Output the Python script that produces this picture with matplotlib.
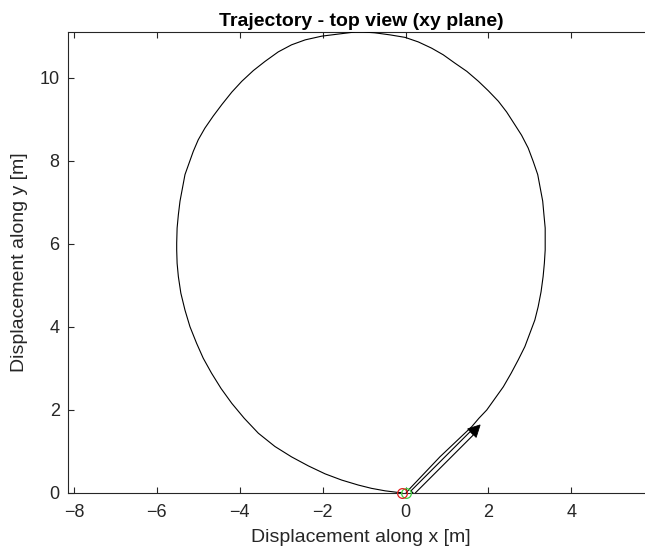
import matplotlib
matplotlib.use("Agg")
import matplotlib.pyplot as plt
from matplotlib.patches import FancyArrow

# Trajectory in the horizontal plane [m], from start to end
traj_x = [0.02, 0.11, 0.83, 1.60, 1.77, 1.96, 2.16, 2.36, 2.55, 2.72, 2.88,
          3.00, 3.12, 3.20, 3.27, 3.32, 3.35, 3.37, 3.37, 3.37, 3.34, 3.31,
          3.25, 3.19, 3.08, 2.96, 2.80, 2.64, 2.44, 2.24, 2.00, 1.76, 1.48,
          1.19, 0.91, 0.63, 0.31, -0.01, -0.37, -0.74, -1.02, -1.22, -1.54,
          -2.02, -2.42, -2.75, -3.07, -3.39, -3.67, -3.95, -4.19, -4.43, -4.64,
          -4.84, -5.00, -5.12, -5.22, -5.32, -5.38, -5.44, -5.48, -5.51, -5.52,
          -5.52, -5.51, -5.48, -5.42, -5.32, -5.20, -5.04, -4.88, -4.68, -4.45,
          -4.19, -3.89, -3.55, -3.15, -2.75, -2.34, -1.94, -1.54, -1.14, -0.82,
          -0.49, -0.17, -0.09]
traj_y = [0.00, 0.10, 0.86, 1.59, 1.79, 1.99, 2.27, 2.55, 2.88, 3.20, 3.52,
          3.84, 4.16, 4.48, 4.84, 5.21, 5.53, 5.85, 6.02, 6.38, 6.70, 7.03,
          7.35, 7.67, 7.99, 8.31, 8.62, 8.87, 9.18, 9.44, 9.69, 9.92, 10.16,
          10.36, 10.56, 10.72, 10.87, 10.98, 11.04, 11.09, 11.11, 11.11, 11.07,
          11.01, 10.92, 10.80, 10.63, 10.40, 10.18, 9.92, 9.66, 9.36, 9.08,
          8.79, 8.51, 8.23, 7.95, 7.67, 7.35, 7.03, 6.70, 6.38, 6.02,
          5.85, 5.53, 5.21, 4.81, 4.40, 4.00, 3.60, 3.24, 2.88, 2.51,
          2.15, 1.79, 1.43, 1.11, 0.86, 0.64, 0.45, 0.30, 0.18, 0.10,
          0.04, 0.00, 0.00]

# Initial heading arrow (tail -> tip) [m]
heading_tail = (0.17, 0.00)
heading_tip = (1.80, 1.63)

x_ticks = [-8, -6, -4, -2, 0, 2, 4]
y_ticks = [0, 2, 4, 6, 8, 10]

plt.rcParams["font.family"] = ["Liberation Sans", "DejaVu Sans"]
text_gray = "#262626"

fig = plt.figure(figsize=(6.45, 5.56), dpi=100)
W, H = 645, 556
left_px, right_px, top_px, bottom_px = 68, 654, 32, 492.5
ax = fig.add_axes([left_px / W, (H - bottom_px) / H,
                   (right_px - left_px) / W, (bottom_px - top_px) / H])

ax.plot(traj_x, traj_y, color="black", lw=0.8, zorder=3)

# start / end markers
ax.plot(traj_x[0], traj_y[0], "o", mfc="none", mec="#3fd13f", ms=7, mew=0.9,
        clip_on=False, zorder=5)
ax.plot(traj_x[-1], traj_y[-1], "o", mfc="none", mec="#e32020", ms=7, mew=0.9,
        clip_on=False, zorder=5)

# heading arrow: hollow shaft with a filled head
dx = heading_tip[0] - heading_tail[0]
dy = heading_tip[1] - heading_tail[1]
length = (dx ** 2 + dy ** 2) ** 0.5
ux, uy = dx / length, dy / length
head_len, head_w, shaft_w = 0.28, 0.29, 0.11
shaft = FancyArrow(heading_tail[0], heading_tail[1],
                   ux * (length - head_len), uy * (length - head_len),
                   width=shaft_w, head_width=shaft_w, head_length=0,
                   length_includes_head=True, fc="white", ec="black", lw=0.8,
                   zorder=4)
ax.add_patch(shaft)
bx = heading_tip[0] - ux * head_len
by = heading_tip[1] - uy * head_len
head = FancyArrow(bx, by, ux * head_len, uy * head_len, width=0,
                  head_width=head_w, head_length=head_len,
                  length_includes_head=True, fc="black", ec="black", lw=0.6,
                  zorder=4)
ax.add_patch(head)

x0_px = 405.5
scale = 41.45
ax.set_xlim((left_px - x0_px) / scale, (right_px - x0_px) / scale)
ax.set_ylim(0, (bottom_px - top_px) / scale)
ax.set_xticks(x_ticks)
ax.set_yticks(y_ticks)

ax.tick_params(direction="in", length=4, width=0.8, colors=text_gray,
               labelsize=13, top=True, right=False)
ax.tick_params(axis="x", pad=8)
ax.tick_params(axis="y", pad=6)
for sp in ax.spines.values():
    sp.set_color(text_gray)
    sp.set_linewidth(0.8)
ax.spines["right"].set_visible(False)

ax.set_xlabel("Displacement along x [m]", fontsize=14, color=text_gray,
              labelpad=6)
ax.set_ylabel("Displacement along y [m]", fontsize=14, color=text_gray,
              labelpad=8)
ax.set_title("Trajectory - top view (xy plane)", fontsize=14,
             fontweight="bold", color="black", pad=4)

fig.savefig("out.png", dpi=100)
